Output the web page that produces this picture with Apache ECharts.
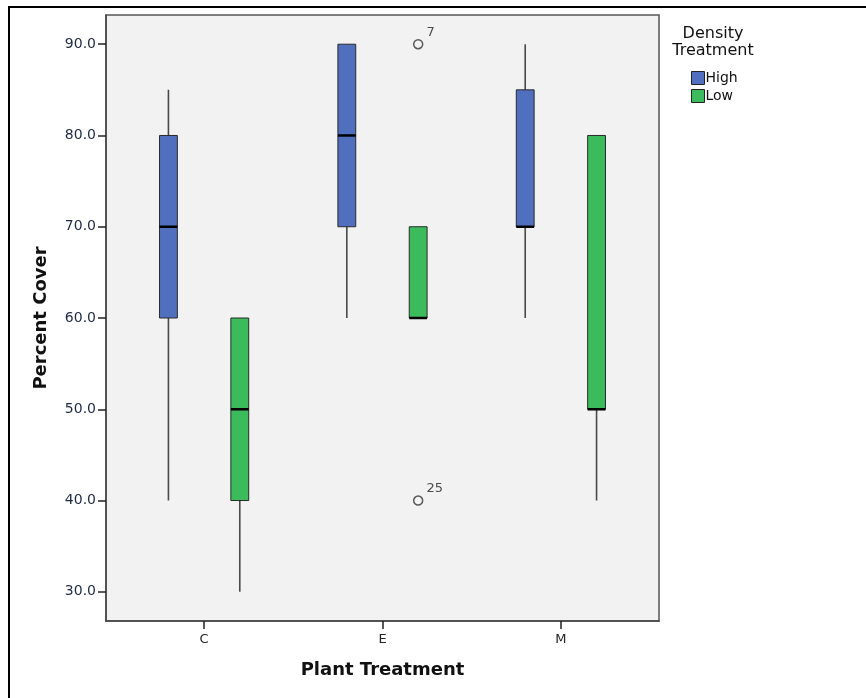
<!DOCTYPE html>
<html>
<head>
<meta charset="utf-8">
<script src="https://cdn.jsdelivr.net/npm/echarts@6/dist/echarts.min.js"></script>
<style>
html,body{margin:0;padding:0;background:#fff;}
#main{width:866px;height:698px;}
</style>
</head>
<body>
<div id="main"></div>
<script>
// ---- data ----
const categories = ['C', 'E', 'M'];
const yTicks = [30, 40, 50, 60, 70, 80, 90];
// [categoryIndex, min, Q1, median, Q3, max]
const highBoxes = [
  [0, 40, 60, 70, 80, 85],
  [1, 60, 70, 80, 90, 90],
  [2, 60, 70, 70, 85, 90]
];
const lowBoxes = [
  [0, 30, 40, 50, 60, 60],
  [1, 60, 60, 60, 70, 70],
  [2, 40, 50, 50, 80, 80]
];
// outliers: [categoryIndex, value, case label]
const lowOutliers = [
  [1, 90, '7'],
  [1, 40, '25']
];

const FONT = 'DejaVu Sans';
const HIGH_COLOR = '#5070bf';
const LOW_COLOR = '#3cbb5c';
const OFFSET = 0.2;
const BOX_W = 0.1;

function boxRenderer(offset, color) {
  return function (params, api) {
    const x = api.value(0) + offset;
    const pMin = api.coord([x, api.value(1)]);
    const pQ1 = api.coord([x, api.value(2)]);
    const pMed = api.coord([x, api.value(3)]);
    const pQ3 = api.coord([x, api.value(4)]);
    const pMax = api.coord([x, api.value(5)]);
    const w = api.size([BOX_W, 0])[0];
    const children = [];
    children.push({
      type: 'line',
      shape: { x1: pMin[0], y1: pMin[1], x2: pMax[0], y2: pMax[1] },
      style: { stroke: '#4a4a4a', lineWidth: 1.6 }
    });
    children.push({
      type: 'rect',
      shape: { x: pQ3[0] - w / 2, y: pQ3[1], width: w, height: pQ1[1] - pQ3[1] },
      style: { fill: color, stroke: '#2a2a2a', lineWidth: 1 }
    });
    children.push({
      type: 'line',
      shape: { x1: pMed[0] - w / 2, y1: pMed[1], x2: pMed[0] + w / 2, y2: pMed[1] },
      style: { stroke: '#000', lineWidth: 2.5 }
    });
    return { type: 'group', children: children };
  };
}

const chart = echarts.init(document.getElementById('main'));
chart.setOption({
  animation: false,
  backgroundColor: '#fff',
  grid: {
    left: 106, top: 15, width: 553, height: 606,
    show: true, backgroundColor: '#f2f2f2', borderColor: '#555', borderWidth: 1.5
  },
  graphic: [
    {
      type: 'rect', z: 100,
      shape: { x: 9, y: 7, width: 900, height: 760 },
      style: { fill: 'none', stroke: '#000', lineWidth: 2 }
    },
    {
      type: 'text', x: 713, y: 25,
      style: {
        text: 'Density\nTreatment', align: 'center', verticalAlign: 'top',
        font: '16px "DejaVu Sans"', fill: '#111', lineHeight: 17
      }
    }
  ],
  legend: {
    data: ['High', 'Low'],
    orient: 'vertical',
    left: 686, top: 66,
    itemWidth: 13, itemHeight: 13, itemGap: 4,
    icon: 'rect',
    itemStyle: { borderColor: '#222', borderWidth: 1 },
    textStyle: { fontFamily: FONT, fontSize: 14, color: '#111', padding: [0, 0, 0, -4] }
  },
  xAxis: {
    type: 'value',
    min: -0.55, max: 2.55,
    name: 'Plant Treatment',
    nameLocation: 'middle',
    nameGap: 40,
    nameTextStyle: { fontFamily: FONT, fontSize: 18, fontWeight: 'bold', color: '#111' },
    axisLine: { show: true, onZero: false, lineStyle: { color: '#444', width: 1.5 } },
    axisTick: { show: true, length: 8, customValues: [0, 1, 2], lineStyle: { color: '#222', width: 1.5 } },
    axisLabel: {
      customValues: [0, 1, 2],
      formatter: function (v) { return categories[Math.round(v)]; },
      fontFamily: FONT, fontSize: 13, color: '#222', margin: 12
    },
    splitLine: { show: false }
  },
  yAxis: {
    type: 'value',
    min: 26.8, max: 93.2,
    name: 'Percent Cover',
    nameLocation: 'middle',
    nameGap: 56,
    nameTextStyle: { fontFamily: FONT, fontSize: 18, fontWeight: 'bold', color: '#111' },
    axisLine: { show: true, onZero: false, lineStyle: { color: '#444', width: 1.5 } },
    axisTick: { show: true, length: 8, customValues: yTicks, lineStyle: { color: '#222', width: 1.5 } },
    axisLabel: {
      customValues: yTicks,
      formatter: function (v) { return v.toFixed(1); },
      fontFamily: FONT, fontSize: 14, color: '#1e2a44', margin: 10
    },
    splitLine: { show: false }
  },
  series: [
    {
      name: 'High', type: 'custom',
      itemStyle: { color: HIGH_COLOR },
      renderItem: boxRenderer(-OFFSET, HIGH_COLOR),
      encode: { x: 0, y: [1, 2, 3, 4, 5] },
      data: highBoxes
    },
    {
      name: 'Low', type: 'custom',
      itemStyle: { color: LOW_COLOR },
      renderItem: boxRenderer(OFFSET, LOW_COLOR),
      encode: { x: 0, y: [1, 2, 3, 4, 5] },
      data: lowBoxes
    },
    {
      type: 'scatter',
      symbol: 'circle',
      symbolSize: 9,
      itemStyle: { color: '#f2f2f2', borderColor: '#333', borderWidth: 1.5 },
      data: lowOutliers.map(function (o) { return { value: [o[0] + OFFSET, o[1]], name: o[2] }; }),
      label: {
        show: true, position: 'right', distance: 3, offset: [0, -12],
        formatter: function (p) { return p.name; },
        fontFamily: FONT, fontSize: 13, color: '#222'
      },
      z: 5
    }
  ]
});
</script>
</body>
</html>
